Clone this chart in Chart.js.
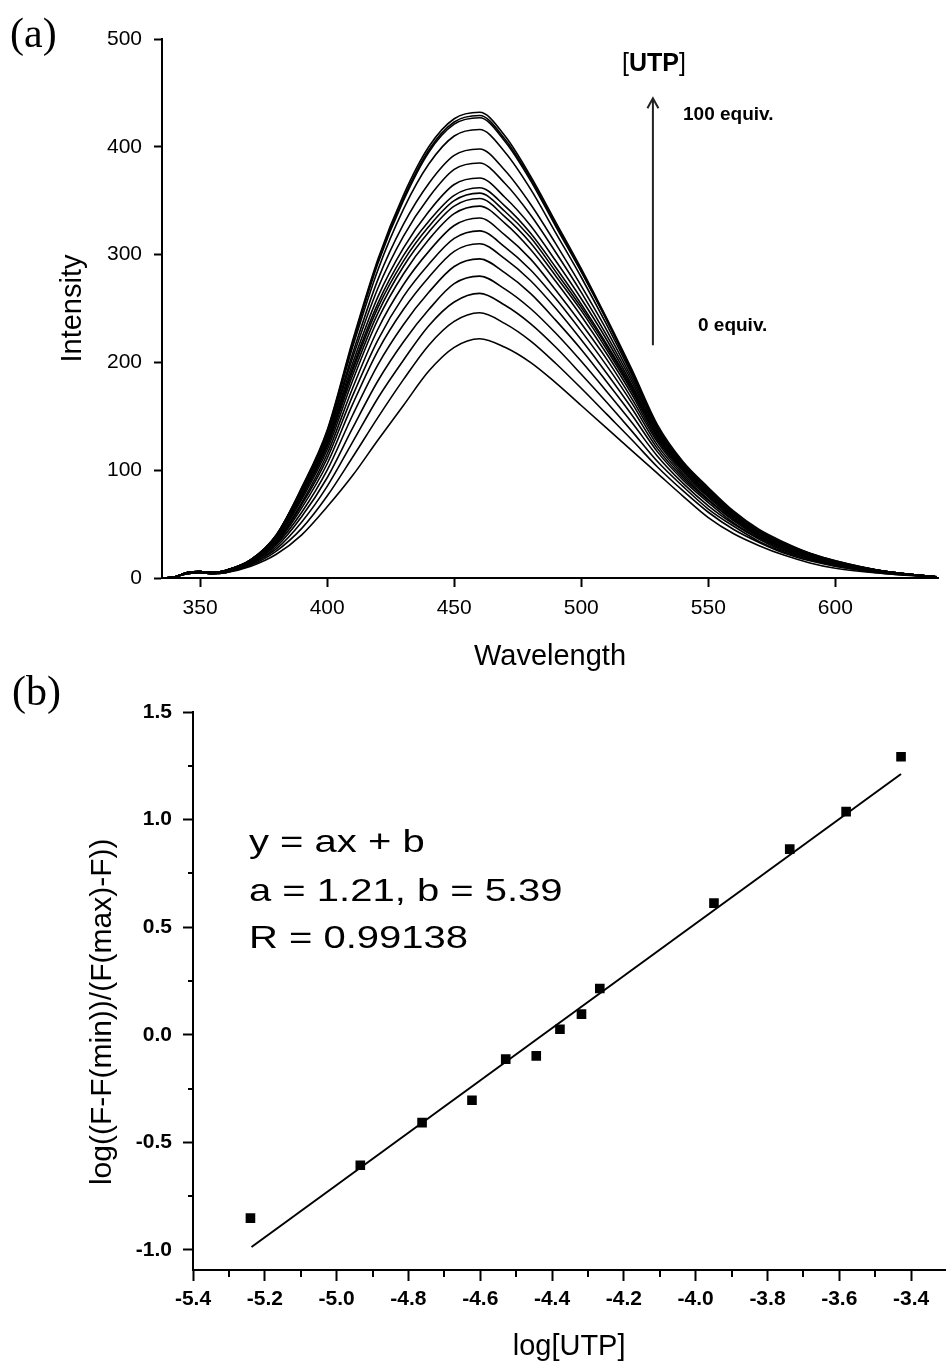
<!DOCTYPE html>
<html><head><meta charset="utf-8">
<script src="https://cdn.jsdelivr.net/npm/chart.js@4.4.1/dist/chart.umd.min.js"></script>
<style>
html,body{margin:0;padding:0;background:#fff;}
#wrap{position:relative;width:952px;height:1367px;overflow:hidden;font-family:"Liberation Sans",Arial,sans-serif;color:#000;}
canvas{position:absolute;left:0;}
.lbl{position:absolute;white-space:nowrap;color:#000;line-height:1;}
.serif{font-family:"Liberation Serif","Times New Roman",serif;font-size:42px;line-height:42px;}
.eq{font-size:32px;line-height:32px;transform:scaleX(1.25);transform-origin:0 0;}
</style></head>
<body><div id="wrap">
<canvas id="ca" width="952" height="680" style="top:0"></canvas>
<canvas id="cb" width="952" height="687" style="top:680px"></canvas>
<div class="lbl serif" style="left:10px;top:12px">(a)</div>
<div class="lbl serif" style="left:12px;top:670px">(b)</div>
<div class="lbl" style="left:622px;top:50px;font-size:25px;line-height:25px">[<b>UTP</b>]</div>
<div class="lbl" style="left:683px;top:104px;font-size:19px;line-height:19px;font-weight:bold">100 equiv.</div>
<div class="lbl" style="left:698px;top:315px;font-size:19px;line-height:19px;font-weight:bold">0 equiv.</div>
<div class="lbl eq" style="left:249px;top:825px">y = ax + b</div>
<div class="lbl eq" style="left:249px;top:874px">a = 1.21, b = 5.39</div>
<div class="lbl eq" style="left:249px;top:921px">R = 0.99138</div>
</div>
<script>
// ---------- Panel (a): emission spectra ----------
const wavelengths = [335,340,345,350,355,360,370,380,390,400,410,420,430,440,450,460,470,480,490,500,510,520,530,540,550,560,570,580,590,600,620,640];
const curve00 = [0,1,4,5,4,5,11,22,40,66,95,128,160,192,214,222,214,200,181,160,139,118,97,76,56,41,30,21,14,9,4,1];
const curve01 = [0,1,4,5,4,5,12,25,46,76,112,149,184,216,238,246,236,220,199,176,152,128,103,81,61,45,33,23,16,11,4,1];
const curve02 = [0,1,4,5,4,5,13,27,52,85,126,167,202,234,256,264,253,236,214,189,163,136,108,85,64,48,34,24,17,11,5,1];
const curve03 = [0,1,4,5,4,6,13,29,57,93,139,183,219,249,273,280,268,250,227,201,173,144,113,88,67,50,36,25,18,12,5,1];
const curve04 = [0,1,4,5,4,6,14,31,61,100,151,198,235,265,289,296,283,264,239,212,182,151,117,91,70,51,37,26,18,12,5,1];
const curve05 = [0,1,5,6,5,6,14,32,65,106,161,211,249,279,303,310,296,276,250,221,190,157,120,93,72,53,38,27,19,13,5,1];
const curve06 = [0,1,5,6,5,6,15,33,68,111,169,221,261,291,315,322,307,286,259,229,197,162,123,95,73,54,39,28,19,13,5,1];
const curve07 = [0,1,5,6,5,6,15,34,70,115,176,231,272,303,327,334,318,296,267,236,203,166,126,97,75,55,39,28,20,14,5,1];
const curve08 = [0,1,5,6,5,7,16,35,73,119,183,240,282,314,338,345,329,305,275,243,208,170,128,99,76,56,40,29,20,14,6,1];
const curve09 = [0,1,5,6,5,7,16,36,75,122,188,246,289,321,345,352,335,311,280,248,212,173,130,100,77,56,40,29,20,14,6,1];
const curve10 = [0,1,5,6,5,7,16,37,76,124,192,251,294,326,350,357,340,316,284,251,215,175,131,101,78,57,41,29,21,14,6,1];
const curve11 = [0,1,5,6,5,7,16,37,77,126,195,255,299,331,355,362,345,320,288,254,217,177,132,102,78,57,41,30,21,14,6,1];
const curve12 = [0,1,5,6,5,7,16,38,78,128,199,261,306,340,365,371,353,327,294,259,221,179,134,102,79,58,42,30,21,14,6,1];
const curve13 = [0,1,5,6,5,7,16,38,80,130,204,269,317,353,379,385,366,337,302,265,225,182,135,103,80,58,42,30,21,15,6,1];
const curve14 = [0,1,5,6,5,7,17,39,81,132,208,277,328,366,392,398,378,347,310,271,230,185,136,104,80,59,42,30,22,15,6,1];
const curve15 = [0,1,5,6,5,7,17,39,82,134,214,286,342,384,410,416,395,361,320,279,235,188,138,105,81,59,43,31,22,15,6,1];
const curve16 = [0,1,5,6,5,7,17,40,83,135,217,292,350,395,421,427,405,369,326,284,239,190,139,106,82,60,43,31,22,15,6,1];
const curve17 = [0,1,5,6,5,7,17,40,83,136,218,294,352,397,423,429,407,371,328,285,240,191,140,107,83,61,44,32,23,16,6,1];
const curve18 = [0,1,5,6,5,7,17,40,84,137,220,296,355,400,426,432,410,373,330,287,241,193,142,108,84,62,45,33,23,16,6,1];
const spectra = [curve00,curve01,curve02,curve03,curve04,curve05,curve06,curve07,curve08,curve09,curve10,curve11,curve12,curve13,curve14,curve15,curve16,curve17,curve18];
const xTicksA = [350,400,450,500,550,600];
const yTicksA = [0,100,200,300,400,500];
const arrowLambda = 528.2, arrowFrom = 216, arrowTo = 445;

// ---------- Panel (b): log plot ----------
const logUTP   = [-5.240,-4.934,-4.762,-4.623,-4.529,-4.444,-4.378,-4.318,-4.267,-3.949,-3.738,-3.581,-3.428];
const logRatio = [-0.852,-0.606,-0.408,-0.304,-0.113,-0.098,0.026,0.096,0.215,0.612,0.863,1.037,1.292];
const fitX = [-5.237,-3.428];
const fitY = [-0.986,1.212];
const xTicksB = [-5.4,-5.2,-5.0,-4.8,-4.6,-4.4,-4.2,-4.0,-3.8,-3.6,-3.4];
const xMinorB = [-5.3,-5.1,-4.9,-4.7,-4.5,-4.3,-4.1,-3.9,-3.7,-3.5];
const yTicksB = [-1.0,-0.5,0.0,0.5,1.0,1.5];
const yMinorB = [-0.75,-0.25,0.25,0.75,1.25];

Chart.defaults.font.family = '"Liberation Sans", Arial, sans-serif';
Chart.defaults.color = '#000';
Chart.defaults.animation = false;

const arrowPlugin = {
  id: 'arrow',
  afterDatasetsDraw(chart) {
    const {ctx, scales: {x, y}} = chart;
    const px = x.getPixelForValue(arrowLambda);
    const y0 = y.getPixelForValue(arrowFrom), y1 = y.getPixelForValue(arrowTo);
    ctx.save();
    ctx.strokeStyle = '#222'; ctx.lineWidth = 2;
    ctx.beginPath();
    ctx.moveTo(px, y0); ctx.lineTo(px, y1);
    ctx.moveTo(px - 5.5, y1 + 10); ctx.lineTo(px, y1); ctx.lineTo(px + 5.5, y1 + 10);
    ctx.stroke();
    ctx.restore();
  }
};

new Chart(document.getElementById('ca'), {
  type: 'line',
  data: {
    datasets: spectra.map((c, i) => ({
      label: 'curve ' + i,
      data: wavelengths.map((w, k) => ({x: w, y: c[k]})),
      borderColor: '#000', borderWidth: 1.6, pointRadius: 0,
      cubicInterpolationMode: 'monotone', fill: false
    }))
  },
  options: {
    responsive: false,
    layout: {padding: {left: 0, top: 39, right: 14, bottom: 0}},
    plugins: {legend: {display: false}, tooltip: {enabled: false}},
    scales: {
      x: {
        type: 'linear', min: 335, max: 640.4,
        afterBuildTicks: s => { s.ticks = xTicksA.map(v => ({value: v})); },
        afterFit: s => { s.height = 102; },
        ticks: {autoSkip: false, maxRotation: 0, padding: 9, font: {size: 21}, color: '#000', callback: v => String(v)},
        grid: {drawOnChartArea: false, drawTicks: true, tickLength: 9, tickColor: '#000', tickWidth: 2},
        border: {display: true, color: '#000', width: 2},
        title: {display: true, text: 'Wavelength', font: {size: 29}, color: '#000', padding: {top: 0, bottom: 6}}
      },
      y: {
        type: 'linear', min: 0, max: 500,
        afterBuildTicks: s => { s.ticks = yTicksA.map(v => ({value: v})); },
        afterFit: s => { s.width = 162; },
        ticks: {autoSkip: false, padding: 12, font: {size: 21}, color: '#000', callback: v => String(v)},
        grid: {drawOnChartArea: false, drawTicks: true, tickLength: 8, tickColor: '#000', tickWidth: 2},
        border: {display: true, color: '#000', width: 2},
        title: {display: true, text: 'Intensity', font: {size: 29}, color: '#000', padding: {top: 56, bottom: 0}}
      }
    }
  },
  plugins: [arrowPlugin]
});

const minorTickPlugin = {
  id: 'minorTicks',
  afterDraw(chart) {
    const {ctx, scales: {x, y}, chartArea} = chart;
    ctx.save();
    ctx.strokeStyle = '#000'; ctx.lineWidth = 2;
    ctx.beginPath();
    xMinorB.forEach(v => { const p = Math.round(x.getPixelForValue(v)); ctx.moveTo(p, chartArea.bottom); ctx.lineTo(p, chartArea.bottom + 7); });
    yMinorB.forEach(v => { const p = Math.round(y.getPixelForValue(v)); ctx.moveTo(chartArea.left, p); ctx.lineTo(chartArea.left - 5, p); });
    ctx.stroke();
    ctx.restore();
  }
};

new Chart(document.getElementById('cb'), {
  type: 'scatter',
  data: {
    datasets: [
      {
        label: 'data',
        data: logUTP.map((v, i) => ({x: v, y: logRatio[i]})),
        pointStyle: 'rect', pointRadius: 6.8, pointBorderWidth: 0,
        backgroundColor: '#000', borderColor: '#000', showLine: false
      },
      {
        label: 'fit',
        type: 'line',
        data: fitX.map((v, i) => ({x: v, y: fitY[i]})),
        borderColor: '#000', borderWidth: 2, pointRadius: 0, fill: false
      }
    ]
  },
  options: {
    responsive: false,
    layout: {padding: {left: 0, top: 32, right: 0, bottom: 0}},
    plugins: {legend: {display: false}, tooltip: {enabled: false}},
    scales: {
      x: {
        type: 'linear', min: -5.4, max: -3.305,
        afterBuildTicks: s => { s.ticks = xTicksB.map(v => ({value: v})); },
        afterFit: s => { s.height = 97; },
        ticks: {autoSkip: false, maxRotation: 0, padding: 6, font: {size: 21, weight: 'bold'}, color: '#000', callback: v => v.toFixed(1)},
        grid: {drawOnChartArea: false, drawTicks: true, tickLength: 11, tickColor: '#000', tickWidth: 2},
        border: {display: true, color: '#000', width: 2},
        title: {display: true, text: 'log[UTP]', font: {size: 29}, color: '#000', padding: {top: 0, bottom: 3}}
      },
      y: {
        type: 'linear', min: -1.093, max: 1.5,
        afterBuildTicks: s => { s.ticks = yTicksB.map(v => ({value: v})); },
        afterFit: s => { s.width = 193; },
        ticks: {autoSkip: false, padding: 11, font: {size: 21, weight: 'bold'}, color: '#000', callback: v => v.toFixed(1)},
        grid: {drawOnChartArea: false, drawTicks: true, tickLength: 10, tickColor: '#000', tickWidth: 2},
        border: {display: true, color: '#000', width: 2},
        title: {display: true, text: 'log((F-F(min))/(F(max)-F))     ', font: {size: 30}, color: '#000', padding: {top: 85, bottom: 0}}
      }
    }
  },
  plugins: [minorTickPlugin]
});
</script>
</body></html>
